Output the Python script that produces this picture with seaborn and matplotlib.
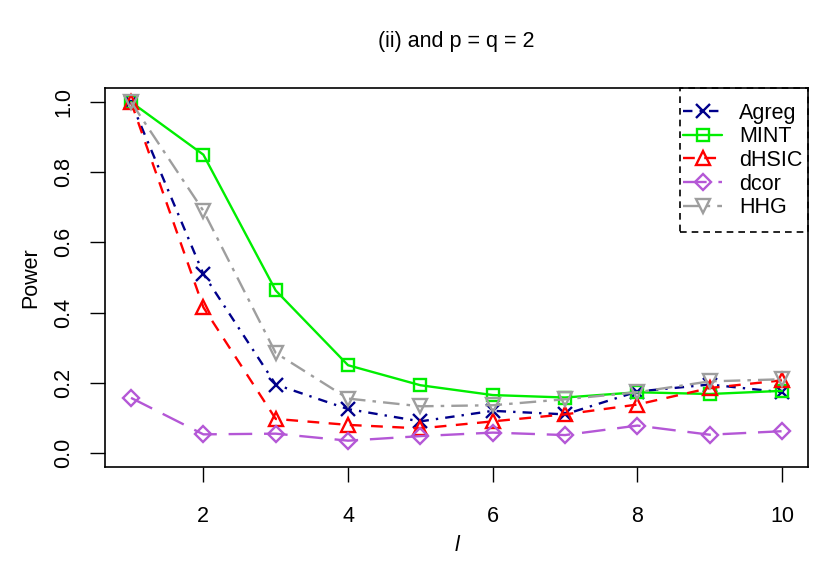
import matplotlib
matplotlib.use("Agg")
import matplotlib.pyplot as plt
from matplotlib.patches import Rectangle
import seaborn as sns
import pandas as pd

# 数据
l_vals = [1, 2, 3, 4, 5, 6, 7, 8, 9, 10]
agreg = [1.0, 0.51, 0.195, 0.125, 0.09, 0.12, 0.11, 0.175, 0.195, 0.173]
mint = [1.0, 0.85, 0.463, 0.25, 0.193, 0.165, 0.158, 0.173, 0.168, 0.177]
dhsic = [1.0, 0.415, 0.097, 0.08, 0.07, 0.09, 0.11, 0.138, 0.185, 0.207]
dcor = [0.157, 0.053, 0.055, 0.035, 0.048, 0.058, 0.051, 0.078, 0.052, 0.062]
hhg = [1.0, 0.69, 0.285, 0.155, 0.133, 0.136, 0.153, 0.173, 0.204, 0.21]

methods = ["Agreg", "MINT", "dHSIC", "dcor", "HHG"]
series = [agreg, mint, dhsic, dcor, hhg]
colors = ["#00008B", "#00EE00", "#FF0000", "#B457D6", "#9E9E9E"]
markers = ["x", "s", "^", "D", "v"]
styles = [(0, (4, 3, 1, 3)), "-", (0, (5, 4)), (0, (10, 5)), (0, (7, 3, 1.5, 3))]
msizes = [10, 9, 10, 8, 10]

sns.set_style("white", rc={"text.color": "black", "axes.labelcolor": "black",
                           "xtick.color": "black", "ytick.color": "black",
                           "axes.edgecolor": "black"})
plt.rcParams["font.family"] = ["Liberation Sans", "DejaVu Sans"]

fig = plt.figure(figsize=(8.36, 5.73), dpi=100)
ax = fig.add_axes([0.1256, 0.185, 0.841, 0.6614])

for name, vals, c, m, ls, ms in zip(methods, series, colors, markers, styles, msizes):
    df = pd.DataFrame({"l": l_vals, "power": vals})
    sns.lineplot(data=df, x="l", y="power", ax=ax, color=c, marker=m,
                 linestyle=ls, linewidth=1.7, markersize=ms,
                 markerfacecolor="none", markeredgecolor=c, markeredgewidth=1.7,
                 label=name)

ax.set_xlim(0.64, 10.36)
ax.set_ylim(-0.04, 1.04)
ax.set_xticks([2, 4, 6, 8, 10])
ax.set_yticks([0.0, 0.2, 0.4, 0.6, 0.8, 1.0])
ax.set_yticklabels(["0.0", "0.2", "0.4", "0.6", "0.8", "1.0"], rotation=90, va="center")
ax.tick_params(axis="both", direction="out", length=11, width=1, labelsize=15.5,
               bottom=True, left=True, color="black")
ax.tick_params(axis="x", pad=17)
ax.tick_params(axis="y", pad=11)
for s in ax.spines.values():
    s.set_color("black")
    s.set_linewidth(1.2)

ax.set_xlabel("l", fontsize=15.5, style="italic", labelpad=6)
ax.set_ylabel("Power", fontsize=15.5, labelpad=8.5)
fig.text(456 / 836, 1 - 41 / 573, "(ii) and p = q = 2", fontsize=15.5,
         ha="center", va="center")

# 图例: 虚线框单独画
box = Rectangle((0.818, 0.620), 0.182, 0.380, transform=ax.transAxes,
                fill=False, edgecolor="black", linewidth=1.2,
                linestyle=(0, (4, 3)), zorder=5, clip_on=False)
ax.add_patch(box)
leg = ax.legend(loc="center", bbox_to_anchor=(0.9075, 0.8087), fontsize=15.5,
                frameon=False, borderaxespad=0, borderpad=0, handlelength=1.8,
                handletextpad=0.8, labelspacing=0.12)

fig.savefig("out.png", dpi=100)
